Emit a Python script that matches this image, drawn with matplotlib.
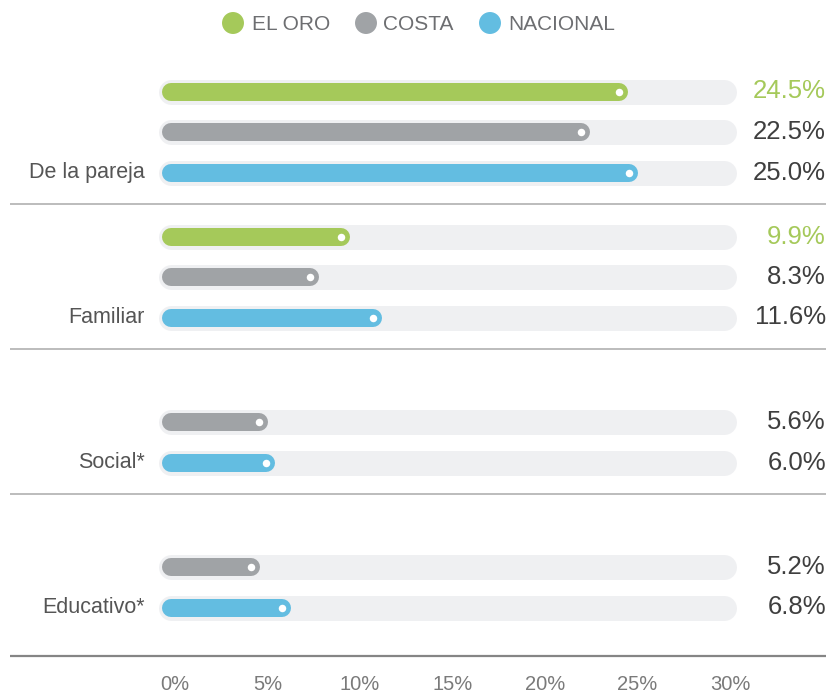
import matplotlib
matplotlib.use("Agg")
import matplotlib.pyplot as plt

plt.rcParams['font.family'] = ['Liberation Sans', 'DejaVu Sans']

categories = ["De la pareja", "Familiar", "Social*", "Educativo*"]
series = ["EL ORO", "COSTA", "NACIONAL"]
el_oro = [24.5, 9.9, None, None]
costa = [22.5, 8.3, 5.6, 5.2]
nacional = [25.0, 11.6, 6.0, 6.8]
tick_values = [0, 5, 10, 15, 20, 25, 30]
tick_labels = ["0%", "5%", "10%", "15%", "20%", "25%", "30%"]

colors = ["#a5c95a", "#a0a3a6", "#63bde1"]
track_color = "#eff0f2"
value_colors = ["#a5c95a", "#3f3f3f", "#3f3f3f"]

W, H, DPI = 829, 696, 100
fig = plt.figure(figsize=(W / DPI, H / DPI), dpi=DPI)
ax = fig.add_axes([0, 0, 1, 1])
ax.set_axis_off()

# pixel mapping: px = X0 + SLOPE * value
X0, SLOPE = 152.0, 19.07
ax.set_xlim(-X0 / SLOPE, (W - X0) / SLOPE)
ax.set_ylim(H, 0)

def px2v(px):
    return (px - X0) / SLOPE

BAR_START = 1.0
TRACK_END = 30.0
track_lw = 25 * 0.72
bar_lw = 18 * 0.72

all_series = [el_oro, costa, nacional]
group_top, group_step, row_step = 91.5, 145.0, 40.5

for g, cat in enumerate(categories):
    base = group_top + g * group_step
    for r, vals in enumerate(all_series):
        v = vals[g]
        if v is None:
            continue
        y = base + r * row_step
        ax.plot([BAR_START, TRACK_END], [y, y], color=track_color, lw=track_lw,
                solid_capstyle='round', zorder=1)
        ax.plot([BAR_START, v], [y, y], color=colors[r], lw=bar_lw,
                solid_capstyle='round', zorder=2)
        ax.plot([v], [y], marker='o', color='white', markersize=5.4,
                markeredgewidth=0, zorder=3)
        ax.text(px2v(826), y, f"{v:.1f}%", ha='right', va='center',
                fontsize=18.5, color=value_colors[r])
    y_last = base + 2 * row_step
    ax.text(px2v(145), y_last, cat, ha='right', va='center',
            fontsize=15.5, color='#555555')
    # separator
    if g < len(categories) - 1:
        ys = base + 112.5
        ax.plot([px2v(10), px2v(826)], [ys, ys], color='#a9a9a9', lw=1.1,
                solid_capstyle='butt', zorder=0)
    else:
        ax.plot([px2v(10), px2v(826)], [656, 656], color='#858585', lw=1.6,
                solid_capstyle='butt', zorder=0)

# tick labels axis (own scale, as in the reference)
tax = fig.add_axes([175 / W, 1 - 684 / H, (730 - 175) / W, 0.0001])
tax.set_xlim(0, 30)
tax.set_yticks([])
for s in tax.spines.values():
    s.set_visible(False)
tax.patch.set_alpha(0)
tax.set_xticks(tick_values)
tax.set_xticklabels(tick_labels, fontsize=14.5, color='#7a7a7a')
tax.tick_params(axis='x', length=0, pad=0)
for lab in tax.get_xticklabels():
    lab.set_va('center')

# legend
leg_circles = [233, 366, 490]
leg_text = [252, 383, 508]
for i, name in enumerate(series):
    ax.scatter([px2v(leg_circles[i])], [23], s=250, color=colors[i],
               edgecolors='none', zorder=3)
    ax.text(px2v(leg_text[i]), 24.5, name, ha='left', va='center',
            fontsize=15, color='#6d6e71')

fig.savefig("out.png", dpi=DPI)
